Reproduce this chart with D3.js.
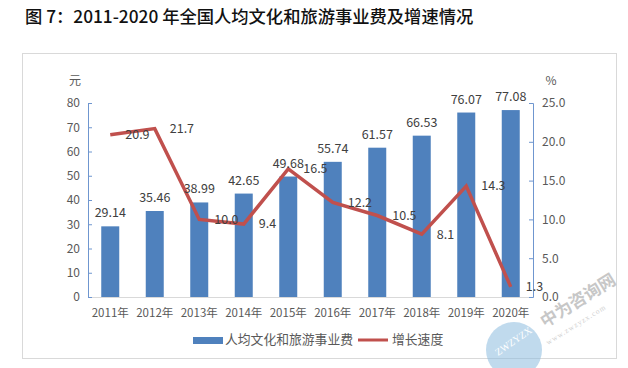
<!DOCTYPE html>
<html><head><meta charset="utf-8">
<script src="https://cdn.jsdelivr.net/npm/d3@7"></script>
<style>body{margin:0;background:#fff;}svg{display:block;}</style>
</head><body>
<svg id="c" width="628" height="368"></svg>
<script>
const categories = ["2011年","2012年","2013年","2014年","2015年","2016年","2017年","2018年","2019年","2020年"];
const spending = [29.14,35.46,38.99,42.65,49.68,55.74,61.57,66.53,76.07,77.08];
const growth = [20.9,21.7,10.0,9.4,16.5,12.2,10.5,8.1,14.3,1.3];
const leftTicks = [0,10,20,30,40,50,60,70,80];
const rightTicks = [0,5,10,15,20,25];
const titleText = "图 7：2011-2020 年全国人均文化和旅游事业费及增速情况";
const seriesNames = ["人均文化和旅游事业费","增长速度"];

const svg = d3.select("#c");
const font = "'Noto Sans CJK SC','Noto Sans',sans-serif";
const L = 88, R = 533, T = 103, B = 297;
const xc = d3.scaleBand().domain(categories).range([L, R]);
const yL = d3.scaleLinear().domain([0, 80]).range([B, T]);
const yR = d3.scaleLinear().domain([0, 25]).range([B, T]);

// frame
svg.append("rect").attr("x",22.5).attr("y",53.5).attr("width",594).attr("height",305)
  .attr("fill","none").attr("stroke","#d9d9d9");

// title
svg.append("text").attr("x",25).attr("y",23).attr("font-family",font).attr("font-size",17.3)
  .attr("font-weight",500).attr("fill","#111").text(titleText);

// bars
svg.append("g").selectAll("rect").data(spending).join("rect")
  .attr("x",(d,i)=>xc(categories[i])+xc.bandwidth()/2-9).attr("width",18)
  .attr("y",d=>yL(d)).attr("height",d=>B-yL(d)).attr("fill","#4f81bd");

// bottom axis line
svg.append("line").attr("x1",L).attr("x2",R).attr("y1",B+0.5).attr("y2",B+0.5).attr("stroke","#d9d9d9");

// left axis
const gl = svg.append("g").attr("transform",`translate(${L},0)`)
  .call(d3.axisLeft(yL).tickValues(leftTicks).tickSize(-4).tickPadding(8));
gl.select(".domain").attr("stroke","#6f96cf");
gl.selectAll(".tick line").attr("stroke","#6f96cf");
gl.selectAll("text").attr("font-family",font).attr("font-size",12).attr("fill","#595959");

// right axis
const gr = svg.append("g").attr("transform",`translate(${R},0)`)
  .call(d3.axisRight(yR).tickValues(rightTicks).tickSize(-4).tickPadding(9).tickFormat(d3.format(".1f")));
gr.select(".domain").attr("stroke","#6f96cf");
gr.selectAll(".tick line").attr("stroke","#6f96cf");
gr.selectAll("text").attr("font-family",font).attr("font-size",12).attr("fill","#595959");

// units
svg.append("text").attr("x",75).attr("y",85).attr("text-anchor","middle").attr("font-family",font)
  .attr("font-size",12).attr("fill","#595959").text("元");
svg.append("text").attr("x",551).attr("y",85).attr("text-anchor","middle").attr("font-family",font)
  .attr("font-size",12).attr("fill","#595959").text("%");

// x labels
svg.append("g").selectAll("text").data(categories).join("text")
  .attr("x",d=>xc(d)+xc.bandwidth()/2).attr("y",317).attr("text-anchor","middle")
  .attr("font-family",font).attr("font-size",11.5).attr("fill","#595959").text(d=>d);

// line
const line = d3.line().x((d,i)=>xc(categories[i])+xc.bandwidth()/2).y(d=>yR(d));
svg.append("path").datum(growth).attr("d",line).attr("fill","none")
  .attr("stroke","#c0504d").attr("stroke-width",3.5).attr("stroke-linejoin","miter");

// bar labels
svg.append("g").selectAll("text").data(spending).join("text")
  .attr("x",(d,i)=>xc(categories[i])+xc.bandwidth()/2).attr("y",d=>yL(d)-9)
  .attr("text-anchor","middle").attr("font-family",font).attr("font-size",12.5).attr("fill","#404040")
  .text(d=>d.toFixed(2));

// line labels
svg.append("g").selectAll("text").data(growth).join("text")
  .attr("x",(d,i)=>xc(categories[i])+xc.bandwidth()/2+15).attr("y",d=>yR(d)).attr("dy","0.35em")
  .attr("font-family",font).attr("font-size",12.5).attr("fill","#404040").text(d=>d.toFixed(1));

// legend
svg.append("rect").attr("x",193).attr("y",337).attr("width",30).attr("height",7).attr("fill","#4f81bd");
svg.append("text").attr("x",225).attr("y",340).attr("dy","0.35em").attr("font-family",font)
  .attr("font-size",12.8).attr("fill","#595959").text(seriesNames[0]);
svg.append("line").attr("x1",358).attr("x2",388).attr("y1",340).attr("y2",340)
  .attr("stroke","#c0504d").attr("stroke-width",3);
svg.append("text").attr("x",392).attr("y",340).attr("dy","0.35em").attr("font-family",font)
  .attr("font-size",12.8).attr("fill","#595959").text(seriesNames[1]);

// watermark
const wm = svg.append("g").attr("opacity",0.55);
wm.append("circle").attr("cx",514).attr("cy",350).attr("r",28).attr("fill","#8dbde0");
wm.append("text").attr("transform","translate(498,356) rotate(-35)").attr("font-family","'Liberation Serif',serif")
  .attr("font-size",10).attr("fill","#fff").text("ZWZYZX");
wm.append("text").attr("transform","translate(545,328) rotate(-32)").attr("font-family",font)
  .attr("font-size",17).attr("font-weight","bold").attr("fill","#9a9a9a").text("中为咨询网");
wm.append("text").attr("transform","translate(548,345) rotate(-32)").attr("font-family","'Liberation Serif',serif")
  .attr("font-size",7.5).attr("fill","#aaa").attr("letter-spacing",1).text("www.zwzyzx.com");
</script>
</body></html>
